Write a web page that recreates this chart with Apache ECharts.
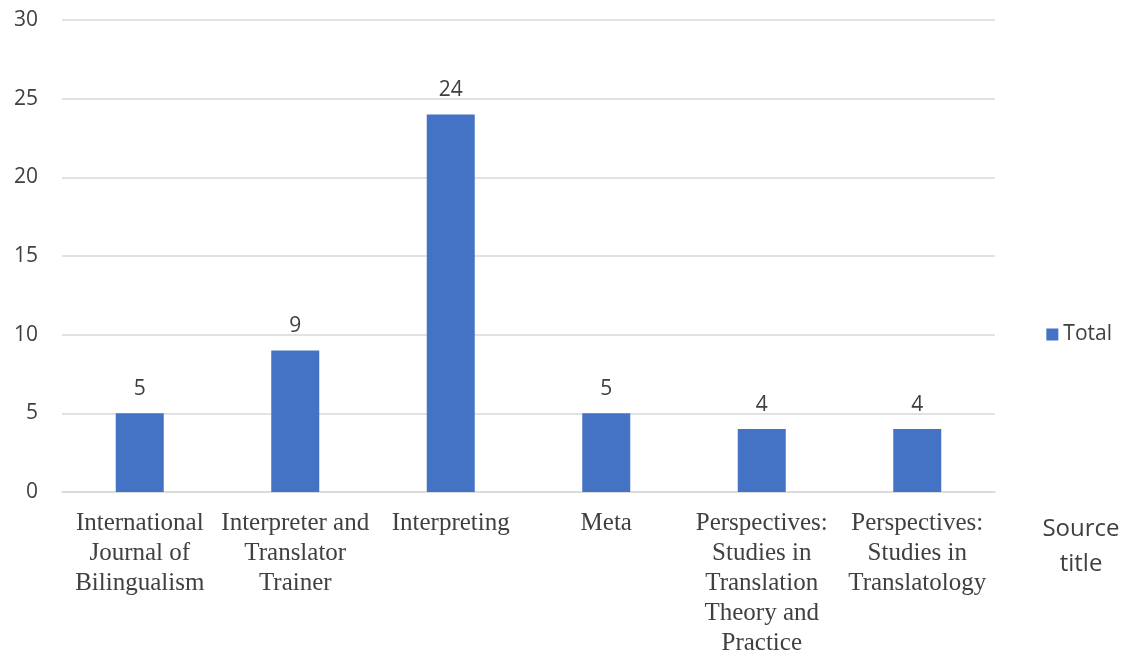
<!DOCTYPE html>
<html>
<head>
<meta charset="utf-8">
<script src="https://cdn.jsdelivr.net/npm/echarts@6/dist/echarts.min.js"></script>
<style>
  html, body { margin: 0; padding: 0; background: #fff; }
  #chart { width: 1125px; height: 658px; }
</style>
</head>
<body>
<div id="chart"></div>
<script>
const categories = [
  "International\nJournal of\nBilingualism",
  "Interpreter and\nTranslator\nTrainer",
  "Interpreting",
  "Meta",
  "Perspectives:\nStudies in\nTranslation\nTheory and\nPractice",
  "Perspectives:\nStudies in\nTranslatology"
];
const totals = [5, 9, 24, 5, 4, 4];
const yTicks = { min: 0, max: 30, interval: 5 };

const chart = echarts.init(document.getElementById("chart"));
const textColor = "#404040";
const sans = "'Open Sans', 'Noto Sans', sans-serif";

chart.setOption({
  backgroundColor: "#fff",
  animation: false,
  grid: { left: 62, right: 130, top: 20, bottom: 165 },
  legend: {
    data: ["Total"],
    right: 8,
    top: 319,
    itemWidth: 12,
    itemHeight: 12,
    itemGap: 6,
    icon: "rect",
    textStyle: { color: textColor, fontSize: 21, fontFamily: sans }
  },
  xAxis: {
    type: "category",
    data: categories,
    name: "Source\ntitle",
    nameLocation: "end",
    nameGap: 86,
    nameTextStyle: {
      color: textColor, fontSize: 24, fontFamily: sans,
      align: "center", verticalAlign: "top", lineHeight: 35,
      padding: [20, 0, 0, 0]
    },
    axisLine: { lineStyle: { color: "#d9d9d9", width: 1.5 } },
    axisTick: { show: false },
    axisLabel: {
      interval: 0,
      margin: 16,
      color: textColor,
      fontSize: 25,
      lineHeight: 30,
      fontFamily: "'Liberation Serif', 'DejaVu Serif', serif"
    }
  },
  yAxis: {
    type: "value",
    min: yTicks.min,
    max: yTicks.max,
    interval: yTicks.interval,
    axisLine: { show: false },
    axisTick: { show: false },
    axisLabel: { color: textColor, fontSize: 21, fontFamily: sans, margin: 24 },
    splitLine: { lineStyle: { color: "#d9d9d9", width: 1.5 } }
  },
  series: [
    {
      name: "Total",
      type: "bar",
      data: totals,
      barWidth: 48,
      itemStyle: { color: "#4472C4" },
      label: {
        show: true,
        position: "top",
        distance: 14,
        color: textColor,
        fontSize: 21,
        fontFamily: sans
      }
    }
  ]
});
</script>
</body>
</html>
